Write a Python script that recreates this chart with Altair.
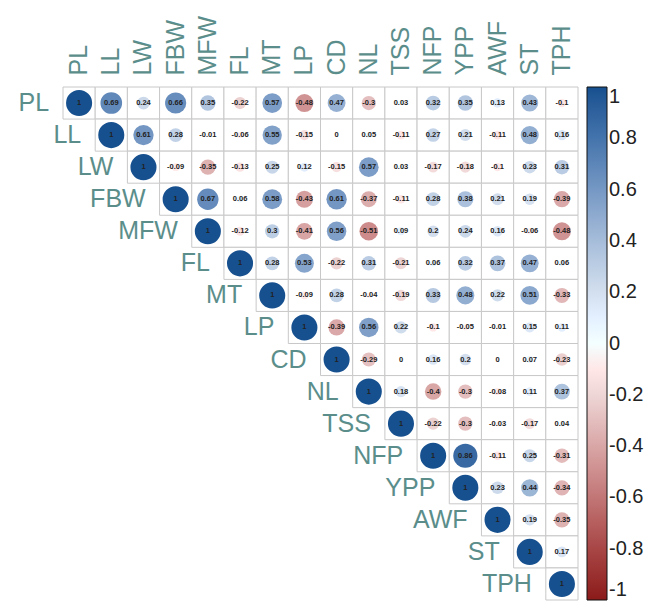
import altair as alt
import pandas as pd

variables = ["PL", "LL", "LW", "FBW", "MFW", "FL", "MT", "LP", "CD", "NL",
             "TSS", "NFP", "YPP", "AWF", "ST", "TPH"]

# upper-triangle rows (from the diagonal to the right)
row_PL = [1, 0.69, 0.24, 0.66, 0.35, -0.22, 0.57, -0.48, 0.47, -0.3, 0.03, 0.32, 0.35, 0.13, 0.43, -0.1]
row_LL = [1, 0.61, 0.28, -0.01, -0.06, 0.55, -0.15, 0, 0.05, -0.11, 0.27, 0.21, -0.11, 0.48, 0.16]
row_LW = [1, -0.09, -0.35, -0.13, 0.25, 0.12, -0.15, 0.57, 0.03, -0.17, -0.18, -0.1, 0.23, 0.31]
row_FBW = [1, 0.67, 0.06, 0.58, -0.43, 0.61, -0.37, -0.11, 0.28, 0.38, 0.21, 0.19, -0.39]
row_MFW = [1, -0.12, 0.3, -0.41, 0.56, -0.51, 0.09, 0.2, 0.24, 0.16, -0.06, -0.48]
row_FL = [1, 0.28, 0.53, -0.22, 0.31, -0.21, 0.06, 0.32, 0.37, 0.47, 0.06]
row_MT = [1, -0.09, 0.28, -0.04, -0.19, 0.33, 0.48, 0.22, 0.51, -0.33]
row_LP = [1, -0.39, 0.56, 0.22, -0.1, -0.05, -0.01, 0.15, 0.11]
row_CD = [1, -0.29, 0, 0.16, 0.2, 0, 0.07, -0.23]
row_NL = [1, 0.18, -0.4, -0.3, -0.08, 0.11, 0.37]
row_TSS = [1, -0.22, -0.3, -0.03, -0.17, 0.04]
row_NFP = [1, 0.86, -0.11, 0.25, -0.31]
row_YPP = [1, 0.23, 0.44, -0.34]
row_AWF = [1, 0.19, -0.35]
row_ST = [1, 0.17]
row_TPH = [1]

rows = [row_PL, row_LL, row_LW, row_FBW, row_MFW, row_FL, row_MT, row_LP,
        row_CD, row_NL, row_TSS, row_NFP, row_YPP, row_AWF, row_ST, row_TPH]

legend_values = [-1, -0.8, -0.6, -0.4, -0.2, 0, 0.2, 0.4, 0.6, 0.8, 1]

records = []
for i, vi in enumerate(variables):
    for k, v in enumerate(rows[i]):
        vj = variables[i + k]
        records.append({"row": vi, "col": vj, "r": v, "absr": abs(v), "label": f"{v:g}"})
df = pd.DataFrame(records)
diag = pd.DataFrame({"var": variables})

FONT = "Liberation Sans"
TEAL = "#5b8e8b"

xscale = alt.Scale(domain=variables, type="band", paddingInner=0, paddingOuter=0)
yscale = alt.Scale(domain=variables, type="band", paddingInner=0, paddingOuter=0)

color_scale = alt.Scale(
    domain=legend_values,
    range=["#8b1a1a", "#a84646", "#c27676", "#d9a6a6", "#eed6d6", "#ffffff",
           "#d3dfee", "#a6bdda", "#7598c4", "#4474ac", "#17508f"],
)

x_enc = alt.X("col:N", scale=xscale,
              axis=alt.Axis(orient="top", labelAngle=270, labelFontSize=25, labelFont=FONT,
                            labelColor=TEAL, domain=False, ticks=False, title=None,
                            labelPadding=12, grid=False, labelOverlap=False))
y_enc = alt.Y("row:N", scale=yscale, axis=None)

base = alt.Chart(df)

cells = base.mark_rect(fill="white", stroke="#c8c8c8", strokeWidth=1).encode(x=x_enc, y=y_enc)

circles = base.mark_circle(opacity=1).encode(
    x=alt.X("col:N", scale=xscale),
    y=alt.Y("row:N", scale=yscale),
    size=alt.Size("absr:Q", scale=alt.Scale(domain=[0, 1], range=[0, 680]), legend=None),
    color=alt.Color("r:Q", scale=color_scale,
                    legend=alt.Legend(orient="none", legendX=524, legendY=0, direction="vertical",
                                      gradientLength=513, gradientThickness=20, title=None,
                                      values=legend_values, labelFontSize=20, labelFont=FONT,
                                      labelColor="#222222", labelOffset=2,
                                      gradientStrokeColor="#111111", gradientStrokeWidth=1,
                                      padding=0,
                                      labelExpr="datum.value < 0 ? '-' + format(-datum.value, '~g') : format(datum.value, '~g')")),
)

nums = base.mark_text(fontSize=7.5, font=FONT, fontWeight="bold", color="#222222").encode(
    x=alt.X("col:N", scale=xscale),
    y=alt.Y("row:N", scale=yscale),
    text="label:N",
)

row_labels = alt.Chart(diag).mark_text(fontSize=25, font=FONT, color=TEAL, align="right",
                                       baseline="middle", dx=-30).encode(
    x=alt.X("var:N", scale=xscale),
    y=alt.Y("var:N", scale=yscale),
    text="var:N",
)

chart = alt.layer(cells, circles, nums, row_labels).properties(
    width=515, height=513,
    autosize=alt.AutoSizeParams(type="none"),
    padding={"left": 55, "top": 79, "right": 67, "bottom": 8},
).configure_view(stroke=None)

chart.save("out.html", embed_options={"renderer": "svg", "actions": False})
